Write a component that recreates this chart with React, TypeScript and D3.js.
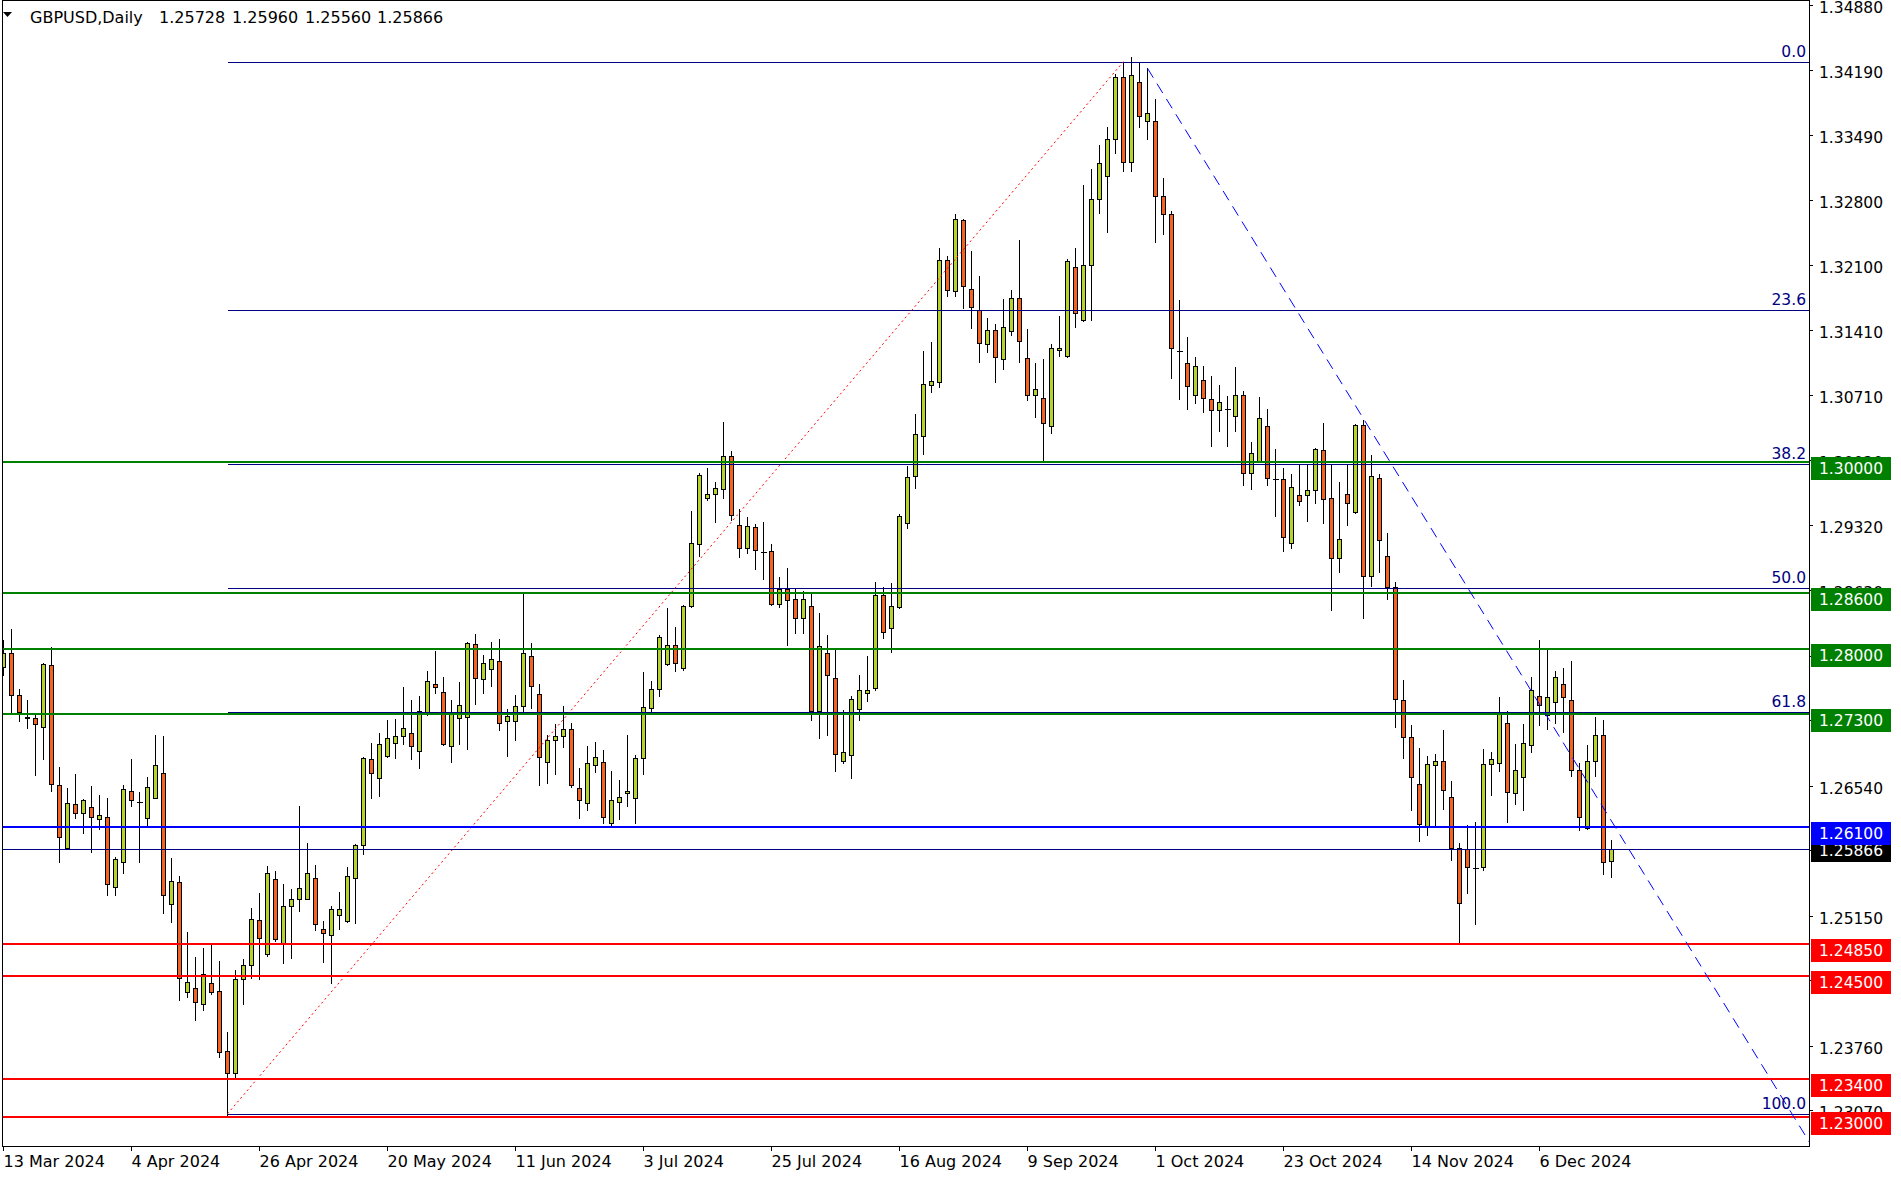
import React, { useEffect, useRef } from "react";
import * as d3 from "d3";

// chart header
const symbolTitle = "GBPUSD,Daily";

// daily candles, 13 Mar 2024 .. 19 Dec 2024 : [open, high, low, close]
const ohlc: [number, number, number, number][] = [
	// March
	[1.27811, 1.28096, 1.27721, 1.27953], [1.27953, 1.28213, 1.27301, 1.27504], [1.27504, 1.27572, 1.2723, 1.27329],
	[1.27272, 1.27454, 1.27158, 1.27266], [1.27258, 1.27312, 1.26652, 1.27194], [1.27169, 1.27853, 1.26823, 1.27836],
	[1.27825, 1.28017, 1.26485, 1.2656], [1.26542, 1.26734, 1.25726, 1.25986], [1.25875, 1.26513, 1.25858, 1.26349],
	[1.26339, 1.26663, 1.26196, 1.2625], [1.2625, 1.26399, 1.26036, 1.26381], [1.26307, 1.26535, 1.25833, 1.26207],
	[1.26178, 1.26438, 1.26078, 1.26221],
	// April
	[1.262, 1.26406, 1.25373, 1.2549], [1.25458, 1.25772, 1.25373, 1.25751], [1.25726, 1.26545, 1.25608, 1.26499],
	[1.26478, 1.26823, 1.26321, 1.26389], [1.26366, 1.26471, 1.25726, 1.26362], [1.26196, 1.26631, 1.261, 1.2652],
	[1.2641, 1.2708, 1.26405, 1.26756], [1.2667, 1.27069, 1.2518, 1.25373], [1.25277, 1.25765, 1.25084, 1.25515],
	[1.25505, 1.25572, 1.24247, 1.24478], [1.24336, 1.24974, 1.24279, 1.24435], [1.24371, 1.24706, 1.24033, 1.24229],
	[1.24207, 1.24803, 1.2414, 1.24521], [1.24425, 1.24838, 1.24311, 1.24336], [1.24339, 1.24664, 1.23637, 1.23694],
	[1.23698, 1.23904, 1.2301, 1.2347], [1.23469, 1.24564, 1.2342, 1.24467], [1.24467, 1.24681, 1.24204, 1.24617],
	[1.24617, 1.25227, 1.24478, 1.25109], [1.25098, 1.25387, 1.24467, 1.24906], [1.24735, 1.25679, 1.24721, 1.25601],
	[1.25537, 1.25622, 1.24877, 1.24895],
	// May
	[1.24852, 1.25487, 1.24646, 1.25248], [1.25248, 1.2543, 1.24699, 1.25323], [1.25323, 1.26321, 1.25202, 1.2544],
	[1.25323, 1.25922, 1.25323, 1.25601], [1.25547, 1.2569, 1.24991, 1.25056], [1.25002, 1.25091, 1.24656, 1.24959],
	[1.24938, 1.25252, 1.24432, 1.25216], [1.25152, 1.25401, 1.25002, 1.25216], [1.25088, 1.25665, 1.2508, 1.25569],
	[1.25547, 1.25911, 1.25073, 1.259], [1.259, 1.26841, 1.25811, 1.2683], [1.2682, 1.26991, 1.2641, 1.2667],
	[1.26617, 1.27101, 1.26431, 1.2698], [1.26852, 1.27237, 1.26845, 1.27044], [1.26991, 1.27251, 1.26834, 1.27066],
	[1.27066, 1.27593, 1.2698, 1.27151], [1.27098, 1.27454, 1.26827, 1.26959], [1.26905, 1.27497, 1.26731, 1.27333],
	[1.27301, 1.27761, 1.27295, 1.27654], [1.27622, 1.27978, 1.27525, 1.2759], [1.27536, 1.27696, 1.26969, 1.2698],
	[1.26959, 1.27451, 1.26788, 1.27301], [1.27258, 1.27643, 1.2698, 1.27397],
	// June
	[1.27269, 1.28078, 1.26927, 1.2806], [1.2805, 1.2816, 1.27408, 1.27686], [1.27675, 1.27936, 1.27533, 1.27847],
	[1.27782, 1.28075, 1.27608, 1.27889], [1.27868, 1.28107, 1.27137, 1.27205], [1.27226, 1.27358, 1.26859, 1.27283],
	[1.27226, 1.27508, 1.2703, 1.27387], [1.27387, 1.28584, 1.27301, 1.27953], [1.27921, 1.2806, 1.27365, 1.27601],
	[1.27515, 1.27622, 1.26549, 1.26842], [1.26788, 1.2708, 1.26571, 1.27023], [1.27023, 1.27198, 1.26667, 1.27066],
	[1.27066, 1.2739, 1.26955, 1.27141], [1.27141, 1.27205, 1.26528, 1.26549], [1.2651, 1.26727, 1.26196, 1.26382],
	[1.2635, 1.26963, 1.26282, 1.26777], [1.26756, 1.27005, 1.26681, 1.26842], [1.26788, 1.2692, 1.26136, 1.262],
	[1.26136, 1.26695, 1.26114, 1.26382], [1.2636, 1.26599, 1.26179, 1.26414],
	// July
	[1.26457, 1.2708, 1.26318, 1.26478], [1.26403, 1.26863, 1.26136, 1.26831], [1.26831, 1.2775, 1.2666, 1.27376],
	[1.27365, 1.27654, 1.27323, 1.27569], [1.27569, 1.28146, 1.27501, 1.28125], [1.27836, 1.28435, 1.2783, 1.28039],
	[1.28039, 1.28232, 1.27761, 1.27847], [1.27793, 1.28467, 1.27772, 1.28462], [1.28456, 1.29472, 1.2845, 1.2913],
	[1.29119, 1.29883, 1.28998, 1.29855], [1.29618, 1.29935, 1.29594, 1.29654], [1.29654, 1.29787, 1.2936, 1.29718],
	[1.29714, 1.30426, 1.29618, 1.30068], [1.30068, 1.30117, 1.29384, 1.29429], [1.29324, 1.29493, 1.28986, 1.29083],
	[1.29083, 1.29412, 1.29026, 1.29312], [1.293, 1.2934, 1.28857, 1.29054], [1.2904, 1.29356, 1.28753, 1.29036],
	[1.29046, 1.29127, 1.28471, 1.28483], [1.28483, 1.28769, 1.28451, 1.28636], [1.28636, 1.28865, 1.28041, 1.28519],
	[1.28531, 1.28652, 1.28173, 1.28334], [1.28334, 1.28624, 1.28173, 1.28531],
	// August
	[1.28455, 1.28608, 1.27244, 1.27341], [1.27341, 1.28383, 1.27048, 1.28029], [1.27952, 1.28149, 1.27075, 1.27719],
	[1.27687, 1.28008, 1.26697, 1.26882], [1.26806, 1.27349, 1.26781, 1.26894], [1.26862, 1.27497, 1.26624, 1.27461],
	[1.27361, 1.27723, 1.2724, 1.27558], [1.27534, 1.27924, 1.27445, 1.27558], [1.27586, 1.28716, 1.27562, 1.28576],
	[1.28576, 1.28664, 1.28121, 1.28185], [1.28222, 1.28704, 1.27972, 1.28455], [1.28451, 1.29445, 1.28443, 1.29417],
	[1.29344, 1.2996, 1.29288, 1.29835], [1.29851, 1.30511, 1.29726, 1.30298], [1.30281, 1.31187, 1.30088, 1.30829],
	[1.30819, 1.31278, 1.30744, 1.30861], [1.30858, 1.32283, 1.30804, 1.32155], [1.32155, 1.32198, 1.31777, 1.31834],
	[1.31824, 1.32647, 1.31777, 1.32594], [1.32583, 1.32594, 1.31649, 1.31877], [1.31845, 1.32251, 1.31435, 1.31653],
	[1.31621, 1.31984, 1.31072, 1.31268],
	// September
	[1.31257, 1.31535, 1.31179, 1.31407], [1.31407, 1.31471, 1.30858, 1.31118], [1.31097, 1.31738, 1.3099, 1.31439],
	[1.31396, 1.31834, 1.31353, 1.31749], [1.31749, 1.32369, 1.31072, 1.31289], [1.31107, 1.31417, 1.30658, 1.30712],
	[1.30712, 1.31054, 1.30477, 1.30776], [1.3068, 1.31097, 1.29999, 1.30412], [1.3038, 1.31257, 1.30305, 1.31214],
	[1.31193, 1.31556, 1.31129, 1.31214], [1.31129, 1.32166, 1.31125, 1.32144], [1.3208, 1.32283, 1.31439, 1.31588],
	[1.31514, 1.32957, 1.31503, 1.32102], [1.32102, 1.33128, 1.31514, 1.32807], [1.32807, 1.33385, 1.32665, 1.33192],
	[1.33053, 1.33577, 1.32462, 1.33449], [1.33449, 1.34144, 1.33299, 1.34112], [1.34112, 1.34272, 1.33107, 1.33203],
	[1.33203, 1.34333, 1.33107, 1.34133], [1.34058, 1.34261, 1.33577, 1.33695], [1.33641, 1.34208, 1.33449, 1.33727],
	// October
	[1.33641, 1.33877, 1.32355, 1.32839], [1.32838, 1.33036, 1.32441, 1.32647], [1.32647, 1.32682, 1.30902, 1.31213],
	[1.31188, 1.3173, 1.30677, 1.31184], [1.31054, 1.31334, 1.30568, 1.30809], [1.30712, 1.3112, 1.30626, 1.31023],
	[1.30871, 1.31027, 1.30537, 1.30688], [1.30669, 1.30918, 1.30175, 1.3056], [1.30552, 1.30821, 1.30333, 1.30638],
	[1.3057, 1.30704, 1.30166, 1.30566], [1.30486, 1.31015, 1.30335, 1.30712], [1.30712, 1.30758, 1.29748, 1.2988],
	[1.2988, 1.30214, 1.29713, 1.3009], [1.30004, 1.30692, 1.3, 1.30467], [1.30381, 1.30564, 1.29748, 1.29826],
	[1.29816, 1.30137, 1.29425, 1.29812], [1.29814, 1.29934, 1.29052, 1.29192], [1.2913, 1.29872, 1.29076, 1.29729],
	[1.29643, 1.29973, 1.29542, 1.29577], [1.29643, 1.29973, 1.29371, 1.29697], [1.29697, 1.30148, 1.29565, 1.30137],
	[1.30125, 1.3042, 1.29352, 1.296], [1.29612, 1.29973, 1.28415, 1.2897],
	// November
	[1.2897, 1.29787, 1.28827, 1.29173], [1.29655, 1.29981, 1.29324, 1.29557], [1.2946, 1.30405, 1.29455, 1.30393],
	[1.30393, 1.30448, 1.28333, 1.2878], [1.2878, 1.30074, 1.28671, 1.29845], [1.29833, 1.29872, 1.28819, 1.29161],
	[1.2899, 1.2924, 1.28537, 1.28659], [1.28659, 1.28714, 1.27167, 1.27462], [1.27451, 1.27664, 1.26836, 1.27057],
	[1.27057, 1.27186, 1.26273, 1.26626], [1.26552, 1.26946, 1.25952, 1.26126], [1.26103, 1.26854, 1.26015, 1.26766],
	[1.26755, 1.26877, 1.26103, 1.26799], [1.26799, 1.27131, 1.26284, 1.2649], [1.26413, 1.26586, 1.25739, 1.25868],
	[1.25868, 1.25923, 1.24855, 1.25289], [1.25857, 1.26118, 1.25396, 1.25665], [1.25663, 1.26151, 1.25054, 1.25659],
	[1.25665, 1.26932, 1.25632, 1.26766], [1.26766, 1.26899, 1.26434, 1.26821], [1.26777, 1.27488, 1.267, 1.27322],
	// December
	[1.27204, 1.27333, 1.26155, 1.26468], [1.26457, 1.26983, 1.26346, 1.26703], [1.26626, 1.27197, 1.26273, 1.26991],
	[1.26969, 1.27701, 1.26902, 1.27558], [1.27495, 1.28095, 1.27189, 1.27399], [1.27289, 1.27985, 1.27149, 1.27488],
	[1.27429, 1.27764, 1.27212, 1.27701], [1.2762, 1.27797, 1.27112, 1.27484], [1.27451, 1.27871, 1.26645, 1.26703],
	[1.26703, 1.26781, 1.26063, 1.26199], [1.26081, 1.26972, 1.2607, 1.26799], [1.26799, 1.27271, 1.26637, 1.27075],
	[1.27075, 1.27241, 1.25599, 1.2572], [1.25728, 1.2596, 1.2556, 1.25866],
];

// time axis: one label every 16 bars
const dateLabels = [
	"13 Mar 2024", "4 Apr 2024", "26 Apr 2024", "20 May 2024", "11 Jun 2024", "3 Jul 2024", "25 Jul 2024",
	"16 Aug 2024", "9 Sep 2024", "1 Oct 2024", "23 Oct 2024", "14 Nov 2024", "6 Dec 2024",
];
const dateLabelStep = 16;

// price axis
const priceTicks = [
	1.3488, 1.3419, 1.3349, 1.328, 1.321, 1.3141, 1.3071, 1.3002, 1.2932, 1.2863, 1.2793, 1.2724, 1.2654, 1.2585,
	1.2515, 1.2446, 1.2376, 1.2307,
];

// horizontal levels
const greenLevels = [1.3, 1.286, 1.28, 1.273];
const redLevels = [1.2485, 1.245, 1.234, 1.23];
const blueLevel = 1.261;

// fibonacci retracement anchors (bar index, price)
const fibLevels = [0, 23.6, 38.2, 50, 61.8, 100];
const fibLow = { index: 28, price: 1.2303 };
const fibHigh = { index: 140, price: 1.3428 };

// dashed trend line anchors
const trendStart = { index: 143, price: 1.34208 };
const trendEnd = { index: 201, price: 1.2616 };

const W = 1901;
const H = 1179;
const plot = { left: 2, right: 1809, top: 0, bottom: 1146 };

const BULL = "#b6d22e";
const BEAR = "#f1641f";
const FONT = "DejaVu Sans, Verdana, sans-serif";

export default function App() {
	const svgRef = useRef<SVGSVGElement | null>(null);

	useEffect(() => {
		if (!svgRef.current) return;
		const svg = d3.select(svgRef.current);
		svg.selectAll("*").remove();

		const x = d3.scaleLinear().domain([0, 1]).range([3.5, 11.5]);
		const y = d3.scaleLinear().domain([1.23, 1.3]).range([1116.6, 461.9]);
		const py = (p: number) => Math.round(y(p)) + 0.5;

		svg.append("rect").attr("width", W).attr("height", H).attr("fill", "#fff");

		svg.append("clipPath")
			.attr("id", "plot-clip")
			.append("rect")
			.attr("x", plot.left)
			.attr("y", plot.top)
			.attr("width", plot.right - plot.left)
			.attr("height", plot.bottom - plot.top);

		const g = svg.append("g").attr("clip-path", "url(#plot-clip)");

		// ---------------- candles ----------------
		const candles = g.append("g").attr("shape-rendering", "crispEdges");
		candles
			.selectAll("line.wick")
			.data(ohlc)
			.join("line")
			.attr("class", "wick")
			.attr("x1", (_, i) => x(i))
			.attr("x2", (_, i) => x(i))
			.attr("y1", (d) => Math.round(y(d[1])))
			.attr("y2", (d) => Math.round(y(d[2])) + 1)
			.attr("stroke", "#000")
			.attr("stroke-width", 1);

		ohlc.forEach(([o, , , c], i) => {
			const cx = x(i);
			const top = Math.round(y(Math.max(o, c)));
			const bot = Math.round(y(Math.min(o, c)));
			if (bot - top < 1) {
				candles
					.append("line")
					.attr("x1", cx - 3)
					.attr("x2", cx + 3)
					.attr("y1", top + 0.5)
					.attr("y2", top + 0.5)
					.attr("stroke", "#000");
			} else {
				candles
					.append("rect")
					.attr("x", cx - 2)
					.attr("y", top + 0.5)
					.attr("width", 4)
					.attr("height", bot - top)
					.attr("fill", c >= o ? BULL : BEAR)
					.attr("stroke", "#000")
					.attr("stroke-width", 1);
			}
		});

		// ---------------- fibonacci ----------------
		const fibRange = fibHigh.price - fibLow.price;
		const fibX0 = x(fibLow.index);
		const fib = g.append("g");
		fibLevels.forEach((lv) => {
			const p = fibHigh.price - (fibRange * lv) / 100;
			fib.append("line")
				.attr("x1", fibX0)
				.attr("x2", plot.right)
				.attr("y1", py(p))
				.attr("y2", py(p))
				.attr("stroke", "#000080")
				.attr("stroke-width", 1)
				.attr("shape-rendering", "crispEdges");
		});
		fib.append("path")
			.attr(
				"d",
				d3.line()([
					[x(fibLow.index), y(fibLow.price)],
					[x(fibHigh.index), y(fibHigh.price)],
				])
			)
			.attr("stroke", "#ff0000")
			.attr("stroke-width", 1)
			.attr("stroke-dasharray", "2,3")
			.attr("fill", "none");

		// ---------------- horizontal levels ----------------
		const levels = g.append("g").attr("shape-rendering", "crispEdges");
		const hLine = (p: number, color: string, w: number) =>
			levels
				.append("line")
				.attr("x1", plot.left)
				.attr("x2", plot.right)
				.attr("y1", Math.round(y(p)) + (w === 1 ? 0.5 : 0))
				.attr("y2", Math.round(y(p)) + (w === 1 ? 0.5 : 0))
				.attr("stroke", color)
				.attr("stroke-width", w);
		greenLevels.forEach((p) => hLine(p, "#008000", 2));
		redLevels.forEach((p) => hLine(p, "#ff0000", 2));
		hLine(blueLevel, "#0000ff", 2);
		const last = ohlc[ohlc.length - 1];
		hLine(last[3], "#000080", 1);

		// ---------------- trend line (ray) ----------------
		const slope = (trendEnd.price - trendStart.price) / (trendEnd.index - trendStart.index);
		const rayEnd = x.invert(plot.right + 10);
		g.append("path")
			.attr(
				"d",
				d3.line()([
					[x(trendStart.index), y(trendStart.price)],
					[x(rayEnd), y(trendStart.price + slope * (rayEnd - trendStart.index))],
				])
			)
			.attr("stroke", "#0000ff")
			.attr("stroke-width", 1)
			.attr("stroke-dasharray", "11,7")
			.attr("fill", "none");

		// fib labels
		fibLevels.forEach((lv) => {
			const p = fibHigh.price - (fibRange * lv) / 100;
			g.append("text")
				.attr("x", plot.right - 3)
				.attr("y", y(p) - 5)
				.attr("text-anchor", "end")
				.attr("font-family", FONT)
				.attr("font-size", 15.5)
				.attr("fill", "#000080")
				.text(lv.toFixed(1));
		});

		// ---------------- frame ----------------
		svg.append("rect")
			.attr("x", plot.left + 0.5)
			.attr("y", plot.top + 0.5)
			.attr("width", plot.right - plot.left)
			.attr("height", plot.bottom - plot.top)
			.attr("fill", "none")
			.attr("stroke", "#000")
			.attr("shape-rendering", "crispEdges");

		// ---------------- price axis ----------------
		const axis = svg.append("g");
		priceTicks.forEach((t) => {
			axis.append("line")
				.attr("x1", plot.right)
				.attr("x2", plot.right + 4)
				.attr("y1", py(t))
				.attr("y2", py(t))
				.attr("stroke", "#000")
				.attr("shape-rendering", "crispEdges");
			axis.append("text")
				.attr("x", plot.right + 10)
				.attr("y", y(t) + 8)
				.attr("font-family", FONT)
				.attr("font-size", 15.5)
				.attr("fill", "#000")
				.text(t.toFixed(5));
		});

		const box = (p: number, color: string, up = 5, h = 23, base = 17) => {
			const top = Math.round(y(p)) - up;
			axis.append("rect")
				.attr("x", plot.right + 2)
				.attr("y", top)
				.attr("width", 80)
				.attr("height", h)
				.attr("fill", color);
			axis.append("text")
				.attr("x", plot.right + 10)
				.attr("y", top + base)
				.attr("font-family", FONT)
				.attr("font-size", 15.5)
				.attr("fill", "#fff")
				.text(p.toFixed(5));
		};
		greenLevels.forEach((p) => box(p, "#008000"));
		redLevels.forEach((p) => box(p, "#ff0000"));
		box(last[3], "#000000", 8, 21, 15);
		box(blueLevel, "#0000ff");

		// ---------------- time axis ----------------
		dateLabels.forEach((lab, k) => {
			const tx = Math.round(x(k * dateLabelStep)) - 0.5;
			axis.append("line")
				.attr("x1", tx)
				.attr("x2", tx)
				.attr("y1", plot.bottom)
				.attr("y2", plot.bottom + 5)
				.attr("stroke", "#000")
				.attr("shape-rendering", "crispEdges");
			axis.append("text")
				.attr("x", tx)
				.attr("y", plot.bottom + 21)
				.attr("font-family", FONT)
				.attr("font-size", 16)
				.attr("fill", "#000")
				.text(lab);
		});

		// ---------------- header ----------------
		const head = svg.append("g");
		head.append("path").attr("d", "M3,12 L12,12 L7.5,17 Z").attr("fill", "#000");
		head.append("text")
			.attr("x", 30)
			.attr("y", 23)
			.attr("font-family", FONT)
			.attr("font-size", 16)
			.attr("fill", "#000")
			.text(symbolTitle);
		const headX = [159, 232, 305, 377];
		[last[0], last[1], last[2], last[3]].forEach((v, k) => {
			head.append("text")
				.attr("x", headX[k])
				.attr("y", 23)
				.attr("font-family", FONT)
				.attr("font-size", 16)
				.attr("fill", "#000")
				.text(v.toFixed(5));
		});
	}, []);

	return (
		<svg
			ref={svgRef}
			width={W}
			height={H}
			style={{ position: "absolute", left: 0, top: 0, display: "block" }}
		/>
	);
}
